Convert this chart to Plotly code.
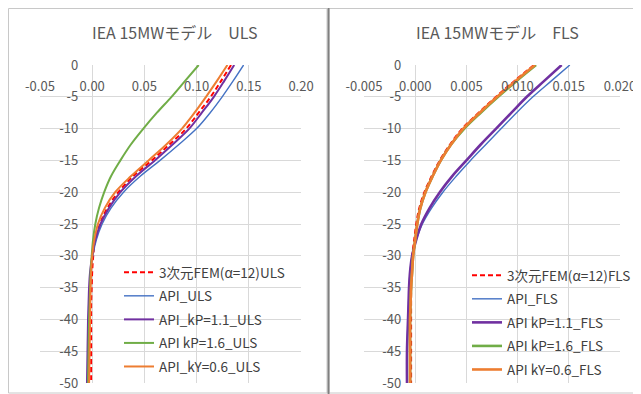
import plotly.graph_objects as go

# the page has an 8px body margin, so the figure is 8px smaller and
# reference pixel positions are shifted by 8
OFF = 8
W, H = 641 - OFF, 394 - OFF

depth = [0, -2.5, -5, -7.5, -10, -12.5, -15, -17.5, -20, -22.5, -25, -27.5, -30,
         -32.5, -35, -37.5, -40, -45, -50]

# ULS series
uls_fem = [0.133, 0.1235, 0.1135, 0.102, 0.090, 0.074, 0.057, 0.039, 0.025, 0.0145, 0.0075, 0.003, 0.001,
           0.0, -0.0005, -0.001, -0.001, -0.001, -0.001]
uls_api = [0.145, 0.135, 0.1245, 0.113, 0.100, 0.083, 0.065, 0.046, 0.030, 0.018, 0.0095, 0.004, 0.0005,
           -0.0015, -0.0025, -0.003, -0.0035, -0.004, -0.0045]
uls_kp11 = [0.136, 0.1265, 0.1165, 0.105, 0.093, 0.077, 0.060, 0.042, 0.027, 0.016, 0.008, 0.003, 0.0,
            -0.002, -0.003, -0.0035, -0.004, -0.0045, -0.005]
uls_kp16 = [0.102, 0.089, 0.076, 0.062, 0.049, 0.037, 0.027, 0.018, 0.0115, 0.0065, 0.003, 0.0008, -0.0005,
            -0.0015, -0.002, -0.0025, -0.003, -0.0035, -0.004]
uls_ky06 = [0.1295, 0.1195, 0.109, 0.098, 0.086, 0.071, 0.054, 0.037, 0.022, 0.012, 0.0055, 0.002, 0.0,
            -0.001, -0.0015, -0.0018, -0.002, -0.0025, -0.003]

# FLS series
fls_fem = [0.0116, 0.0097, 0.0079, 0.0062, 0.0046, 0.0034, 0.0024, 0.0016, 0.0009, 0.0004, 0.0001, -0.0001,
           -0.0003, -0.0004, -0.0004, -0.0004, -0.0004, -0.0004, -0.0004]
fls_api = [0.0151, 0.0133, 0.0115, 0.0099, 0.0084, 0.0069, 0.0054, 0.0040, 0.0027, 0.0016, 0.0007, 0.0001,
           -0.0003, -0.0005, -0.0006, -0.00065, -0.0007, -0.0008, -0.0008]
fls_kp11 = [0.0143, 0.0126, 0.0109, 0.0094, 0.0079, 0.0064, 0.0050, 0.0036, 0.0024, 0.0014, 0.0006, 0.0001,
            -0.0003, -0.0005, -0.0006, -0.00065, -0.0007, -0.0008, -0.0008]
fls_kp16 = [0.0118, 0.0099, 0.0081, 0.0064, 0.0048, 0.0035, 0.0025, 0.0017, 0.0010, 0.0005, 0.0002, 0.0,
            -0.0002, -0.0003, -0.0004, -0.00045, -0.0005, -0.0005, -0.0005]
fls_ky06 = [0.0117, 0.0098, 0.0080, 0.0063, 0.0047, 0.0035, 0.0025, 0.0017, 0.0010, 0.0005, 0.0002, 0.0,
            -0.0002, -0.0003, -0.0004, -0.00045, -0.0005, -0.0005, -0.0005]

uls_names = ["3次元FEM(α=12)ULS", "API_ULS", "API_kP=1.1_ULS", "API kP=1.6_ULS", "API_kY=0.6_ULS"]
fls_names = ["3次元FEM(α=12)FLS", "API_FLS", "API kP=1.1_FLS", "API kP=1.6_FLS", "API kY=0.6_FLS"]

titles = ["IEA 15MWモデル\u3000ULS", "IEA 15MWモデル\u3000FLS"]

uls_xticks = [-0.05, 0.0, 0.05, 0.10, 0.15, 0.20]
uls_xtext = ["-0.05", "0.00", "0.05", "0.10", "0.15", "0.20"]
fls_xticks = [-0.005, 0.0, 0.005, 0.010, 0.015, 0.020]
fls_xtext = ["-0.005", "0.000", "0.005", "0.010", "0.015", "0.020"]
yticks = [0, -5, -10, -15, -20, -25, -30, -35, -40, -45, -50]
ytext = ["0", "-5", "-10", "-15", "-20", "-25", "-30", "-35", "-40", "-45", "-50"]

colors = ["#FF0000", "#4472C4", "#7030A0", "#70AD47", "#ED7D31"]
uls_widths = [2, 1.4, 2, 2, 2]
fls_widths = [2, 1.4, 2.6, 2.6, 2.6]

FONT = "Noto Sans CJK JP"

fig = go.Figure()

uls_series = [uls_fem, uls_api, uls_kp11, uls_kp16, uls_ky06]
fls_series = [fls_fem, fls_api, fls_kp11, fls_kp16, fls_ky06]

for i, (nm, vals) in enumerate(zip(uls_names, uls_series)):
    fig.add_trace(go.Scatter(
        x=vals, y=depth, mode="lines", name=nm, xaxis="x", yaxis="y",
        line=dict(color=colors[i], width=uls_widths[i], shape="spline", smoothing=1.0,
                  dash="5px,3px" if i == 0 else "solid"),
        legend="legend", legendgroup="u%d" % i))

for i, (nm, vals) in enumerate(zip(fls_names, fls_series)):
    fig.add_trace(go.Scatter(
        x=vals, y=depth, mode="lines", name=nm, xaxis="x2", yaxis="y2",
        line=dict(color=colors[i], width=fls_widths[i], shape="spline", smoothing=1.0,
                  dash="5px,3px" if i == 0 else "solid"),
        legend="legend2", legendgroup="f%d" % i))


def px_x(p):
    return (p - OFF) / W


def px_y(p):
    return 1 - (p - OFF) / H


# plot-area pixel geometry (reference screenshot pixels)
L1, R1 = 40, 301
L2, R2 = 364, 620
TOP, BOT = 65, 383

grid = "#d9d9d9"
tickfont = dict(family=FONT, size=13, color="#595959")

common_x = dict(side="bottom", anchor="free", position=px_y(TOP), showgrid=True,
                gridcolor=grid, gridwidth=1, zeroline=False, showline=False, ticks="",
                tickfont=tickfont, ticklabelstandoff=12, automargin=False, fixedrange=True)
common_y = dict(range=[-50, 0], tickvals=yticks, ticktext=ytext, showgrid=True, gridcolor=grid,
                gridwidth=1, zeroline=False, showline=False, ticks="", tickfont=tickfont,
                anchor="free", side="left", ticklabelstandoff=14, automargin=False,
                fixedrange=True)

x0_frac1 = (0 - (-0.05)) / 0.25
x0_frac2 = (0 - (-0.005)) / 0.025

legfont = dict(family=FONT, size=13.5, color="#404040")

fig.update_layout(
    width=W, height=H,
    margin=dict(l=0, r=0, t=0, b=0, autoexpand=False),
    paper_bgcolor="white", plot_bgcolor="white",
    font=dict(family=FONT),
    xaxis=dict(domain=[px_x(L1), px_x(R1)], range=[-0.05, 0.20], tickvals=uls_xticks,
               ticktext=uls_xtext, **common_x),
    yaxis=dict(domain=[px_y(BOT), px_y(TOP)],
               position=px_x(L1 + x0_frac1 * (R1 - L1)), **common_y),
    xaxis2=dict(domain=[px_x(L2), px_x(R2)], range=[-0.005, 0.020], tickvals=fls_xticks,
                ticktext=fls_xtext, **common_x),
    yaxis2=dict(domain=[px_y(BOT), px_y(TOP)],
                position=px_x(L2 + x0_frac2 * (R2 - L2)), **common_y),
    legend=dict(x=px_x(119), y=px_y(257), xanchor="left", yanchor="top",
                bgcolor="rgba(0,0,0,0)", font=legfont, tracegroupgap=3, itemwidth=30),
    legend2=dict(x=px_x(467), y=px_y(260), xanchor="left", yanchor="top",
                 bgcolor="rgba(0,0,0,0)", font=legfont, tracegroupgap=3, itemwidth=30),
    showlegend=True,
)

# titles
fig.add_annotation(text=titles[0], x=px_x(175), y=px_y(32), xref="paper", yref="paper",
                   showarrow=False, xanchor="center", yanchor="middle",
                   font=dict(family=FONT, size=16, color="#595959"))
fig.add_annotation(text=titles[1], x=px_x(497), y=px_y(32), xref="paper", yref="paper",
                   showarrow=False, xanchor="center", yanchor="middle",
                   font=dict(family=FONT, size=16, color="#595959"))

# chart-area borders
fig.add_shape(type="rect", xref="paper", yref="paper", x0=px_x(8.5), x1=px_x(327),
              y0=px_y(393), y1=px_y(8.5), line=dict(color="#c8c8c8", width=1))
fig.add_shape(type="rect", xref="paper", yref="paper", x0=px_x(329), x1=px_x(645),
              y0=px_y(393), y1=px_y(8.5), line=dict(color="#c8c8c8", width=1))
fig.add_shape(type="line", xref="paper", yref="paper", x0=px_x(328.5), x1=px_x(328.5),
              y0=0, y1=1, line=dict(color="#808080", width=2))

fig.write_html("out.html")
